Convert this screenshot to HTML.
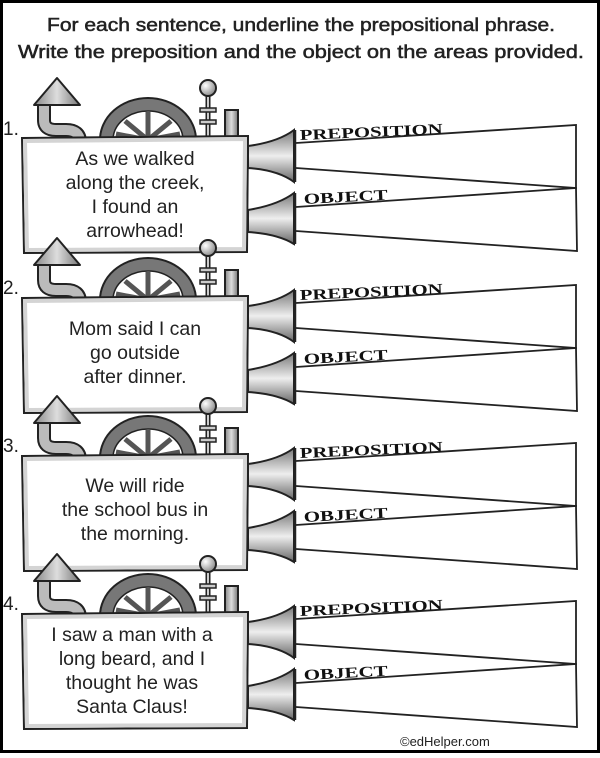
<!DOCTYPE html>
<html><head><meta charset="utf-8"><style>
html,body{margin:0;padding:0;background:#fff}
body{width:600px;height:753px;overflow:hidden}
.s{font-family:"Liberation Sans",sans-serif}
.lb{font-family:"Liberation Serif",serif;font-weight:bold}
</style></head><body>
<svg width="600" height="753" viewBox="0 0 600 753" xmlns="http://www.w3.org/2000/svg">
<defs>
<linearGradient id="hg" x1="0" y1="0" x2="0" y2="1">
<stop offset="0" stop-color="#777"/><stop offset="0.5" stop-color="#eee"/><stop offset="1" stop-color="#666"/></linearGradient>
<linearGradient id="cg" x1="0" y1="0" x2="1" y2="0">
<stop offset="0" stop-color="#888"/><stop offset="0.5" stop-color="#ddd"/><stop offset="1" stop-color="#777"/></linearGradient>
<radialGradient id="bg" cx="0.35" cy="0.35" r="0.7"><stop offset="0" stop-color="#fff"/><stop offset="1" stop-color="#888"/></radialGradient>
<g id="panel">
  <path d="M44,104 L44,120 Q44,130 56,130 L66,130 Q80,130 80,142 L80,140" fill="none" stroke="#222" stroke-width="14" stroke-linejoin="round"/>
  <path d="M44,104 L44,120 Q44,130 56,130 L66,130 Q80,130 80,142" fill="none" stroke="#bbb" stroke-width="10" stroke-linejoin="round"/>
  <polygon points="57,78 34,105 80,105" fill="url(#cg)" stroke="#222" stroke-width="2" stroke-linejoin="round"/>
  <path d="M100,140 A48,42 0 0 1 196,140 Z" fill="#777" stroke="#222" stroke-width="2"/>
  <path d="M113,140 A35,29 0 0 1 183,140 Z" fill="#fff" stroke="#222" stroke-width="1.5"/>
  <g stroke="#555" stroke-width="5">
    <line x1="148" y1="140" x2="148" y2="112"/><line x1="148" y1="140" x2="125" y2="121"/><line x1="148" y1="140" x2="171" y2="121"/><line x1="148" y1="140" x2="116" y2="134"/><line x1="148" y1="140" x2="180" y2="134"/>
  </g>
  <line x1="208" y1="96" x2="208" y2="140" stroke="#222" stroke-width="5"/>
  <line x1="208" y1="96" x2="208" y2="140" stroke="#ccc" stroke-width="2"/>
  <circle cx="208" cy="88" r="8" fill="url(#bg)" stroke="#222" stroke-width="2"/>
  <rect x="200" y="108" width="16" height="4" fill="#ccc" stroke="#222" stroke-width="1.5"/>
  <rect x="200" y="120" width="16" height="4" fill="#ccc" stroke="#222" stroke-width="1.5"/>
  <rect x="225" y="110" width="13" height="30" fill="url(#cg)" stroke="#222" stroke-width="2"/>
  <path d="M22,138 L248,136 L247,252 L24,253 Z" fill="#fff" stroke="#222" stroke-width="2"/>
  <path d="M25,141 L245,139 L244,249 L27,250 Z" fill="none" stroke="#d4d4d4" stroke-width="4"/>
  <path d="M248,146 Q278,142 294,130 L294,182 Q278,170 248,168 Z" fill="url(#hg)" stroke="#222" stroke-width="2"/>
  <path d="M248,210 Q278,205 294,193 L294,244 Q278,234 248,232 Z" fill="url(#hg)" stroke="#222" stroke-width="2"/>
  <line x1="295" y1="130" x2="295" y2="182" stroke="#222" stroke-width="2.5"/>
  <line x1="295" y1="193" x2="295" y2="244" stroke="#222" stroke-width="2.5"/>
  <path d="M296,143 L576,125 L576,188 L296,168" fill="none" stroke="#222" stroke-width="1.8"/>
  <path d="M296,207 L576,188 L577,251 L296,231" fill="none" stroke="#222" stroke-width="1.8"/>
  <text class="lb" x="300" y="140" transform="rotate(-2.5 300 140)" font-size="15" textLength="143" lengthAdjust="spacingAndGlyphs" fill="#111">PREPOSITION</text>
  <text class="lb" x="304" y="204" transform="rotate(-3 304 204)" font-size="15" textLength="84" lengthAdjust="spacingAndGlyphs" fill="#111">OBJECT</text>
</g>
</defs>
<rect x="1.5" y="1.5" width="597" height="750" fill="#fff" stroke="#000" stroke-width="3"/>
<g class="s" fill="#222" stroke="#222" stroke-width="0.5" font-size="18" text-anchor="middle">
<text x="301" y="31" textLength="508" lengthAdjust="spacingAndGlyphs">For each sentence, underline the prepositional phrase.</text>
<text x="301" y="58" textLength="566" lengthAdjust="spacingAndGlyphs">Write the preposition and the object on the areas provided.</text>
</g>

<use href="#panel"/>
<use href="#panel" transform="translate(0,160)"/>
<use href="#panel" transform="translate(0,318)"/>
<use href="#panel" transform="translate(0,476)"/>

<g class="s" font-size="19" fill="#222">
<text x="3" y="135">1.</text><text x="3" y="294">2.</text><text x="3" y="452">3.</text><text x="3" y="610">4.</text>
</g>
<g class="s" font-size="19.5" fill="#222" text-anchor="middle">
<text x="135" y="165">As we walked</text>
<text x="135" y="189">along the creek,</text>
<text x="135" y="213">I found an</text>
<text x="135" y="237">arrowhead!</text>
<text x="135" y="335">Mom said I can</text>
<text x="135" y="359">go outside</text>
<text x="135" y="383">after dinner.</text>
<text x="135" y="492">We will ride</text>
<text x="135" y="516">the school bus in</text>
<text x="135" y="540">the morning.</text>
<text x="132" y="641">I saw a man with a</text>
<text x="132" y="665">long beard, and I</text>
<text x="132" y="689">thought he was</text>
<text x="132" y="713">Santa Claus!</text>
</g>
<text class="s" x="400" y="746" font-size="13" fill="#222">©edHelper.com</text>
</svg>
</body></html>
